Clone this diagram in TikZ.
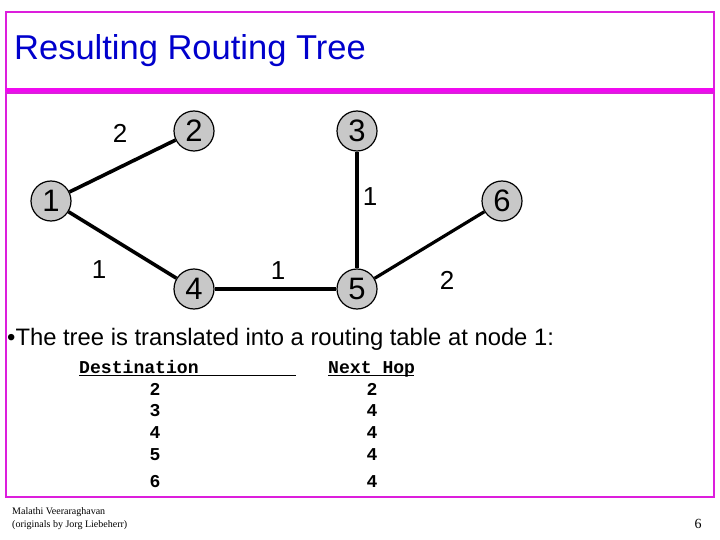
\documentclass[tikz,border=0pt]{standalone}
\usepackage{fontspec}
\setmainfont{Liberation Sans}
\newfontfamily\courierbf{Liberation Mono}[BoldFont={* Bold}]
\newfontfamily\timesf{Liberation Serif}
\definecolor{frame}{RGB}{220,30,220}
\definecolor{band}{RGB}{240,10,240}
\definecolor{titleblue}{RGB}{0,0,204}
\definecolor{nodegray}{RGB}{200,200,200}
\tikzset{
  rnode/.style={circle, draw=black, line width=1.2pt, fill=nodegray, minimum size=40pt, inner sep=0pt, font=\fontsize{31}{31}\selectfont},
  link/.style={line width=3.6pt, black},
  wlabel/.style={font=\fontsize{26}{26}\selectfont, inner sep=0pt},
  tabtxt/.style={font=\courierbf\bfseries\fontsize{18.1}{18.1}\selectfont, inner sep=0pt, anchor=base},
}
\begin{document}
\begin{tikzpicture}[x=1pt,y=-1pt]
\useasboundingbox (0,0) rectangle (720,540);
% frames
\draw[frame, line width=2.2pt] (6,12) rectangle (714,89);
\fill[band] (5,88) rectangle (715,94);
\draw[frame, line width=2.2pt] (6,93) rectangle (714,497);
% title
\node[anchor=base west, text=titleblue, font=\fontsize{34.5}{34.5}\selectfont, inner sep=0pt] (title) at (14,60) {Resulting Routing Tree};
% graph
\node[rnode] (n1) at (51,201) {1};
\node[rnode] (n2) at (194,131) {2};
\node[rnode] (n3) at (357,131) {3};
\node[rnode] (n6) at (502,201) {6};
\node[rnode] (n4) at (194,289) {4};
\node[rnode] (n5) at (357,289) {5};
\draw[link] (n1) -- (n2);
\draw[link] (n1) -- (n4);
\draw[link] (n4) -- (n5);
\draw[link, line width=3.2pt] (n3) -- (n5);
\draw[link, line width=3.2pt] (n5) -- (n6);
\node[wlabel] (w12) at (120,133) {2};
\node[wlabel] (w14) at (99,270) {1};
\node[wlabel] (w45) at (278,271) {1};
\node[wlabel] (w35) at (370,197) {1};
\node[wlabel] (w56) at (447,280) {2};
% bullet text
\node[anchor=base west, inner sep=0pt, font=\fontsize{23.8}{23.8}\selectfont] (bullet) at (7,345) {\textbullet The tree is translated into a routing table at node 1:};
% table
\node[tabtxt, anchor=base west] (hd1) at (79,373) {Destination};
\node[tabtxt, anchor=base west] (hd2) at (328,373) {Next Hop};
\coordinate (u1a) at (79,375.5);
\coordinate (u1b) at (296,375.5);
\coordinate (u2a) at (328,375.5);
\coordinate (u2b) at (414,375.5);
\draw[line width=1.2pt] (u1a) -- (u1b);
\draw[line width=1.2pt] (u2a) -- (u2b);
\node[tabtxt] (d2) at (155,395) {2};
\node[tabtxt] (d3) at (155,416) {3};
\node[tabtxt] (d4) at (155,438) {4};
\node[tabtxt] (d5) at (155,460) {5};
\node[tabtxt] (d6) at (155,487) {6};
\node[tabtxt] (h2) at (372,395) {2};
\node[tabtxt] (h3) at (372,416) {4};
\node[tabtxt] (h4) at (372,438) {4};
\node[tabtxt] (h5) at (372,460) {4};
\node[tabtxt] (h6) at (372,487) {4};
% footer
\node[anchor=base west, inner sep=0pt, font=\timesf\fontsize{10}{13}\selectfont, align=left] (foot) at (12,527) {Malathi Veeraraghavan\\(originals by Jorg Liebeherr)};
\node[anchor=base, inner sep=0pt, font=\timesf\fontsize{14}{14}\selectfont] (page) at (698,528) {6};
\end{tikzpicture}
\end{document}
